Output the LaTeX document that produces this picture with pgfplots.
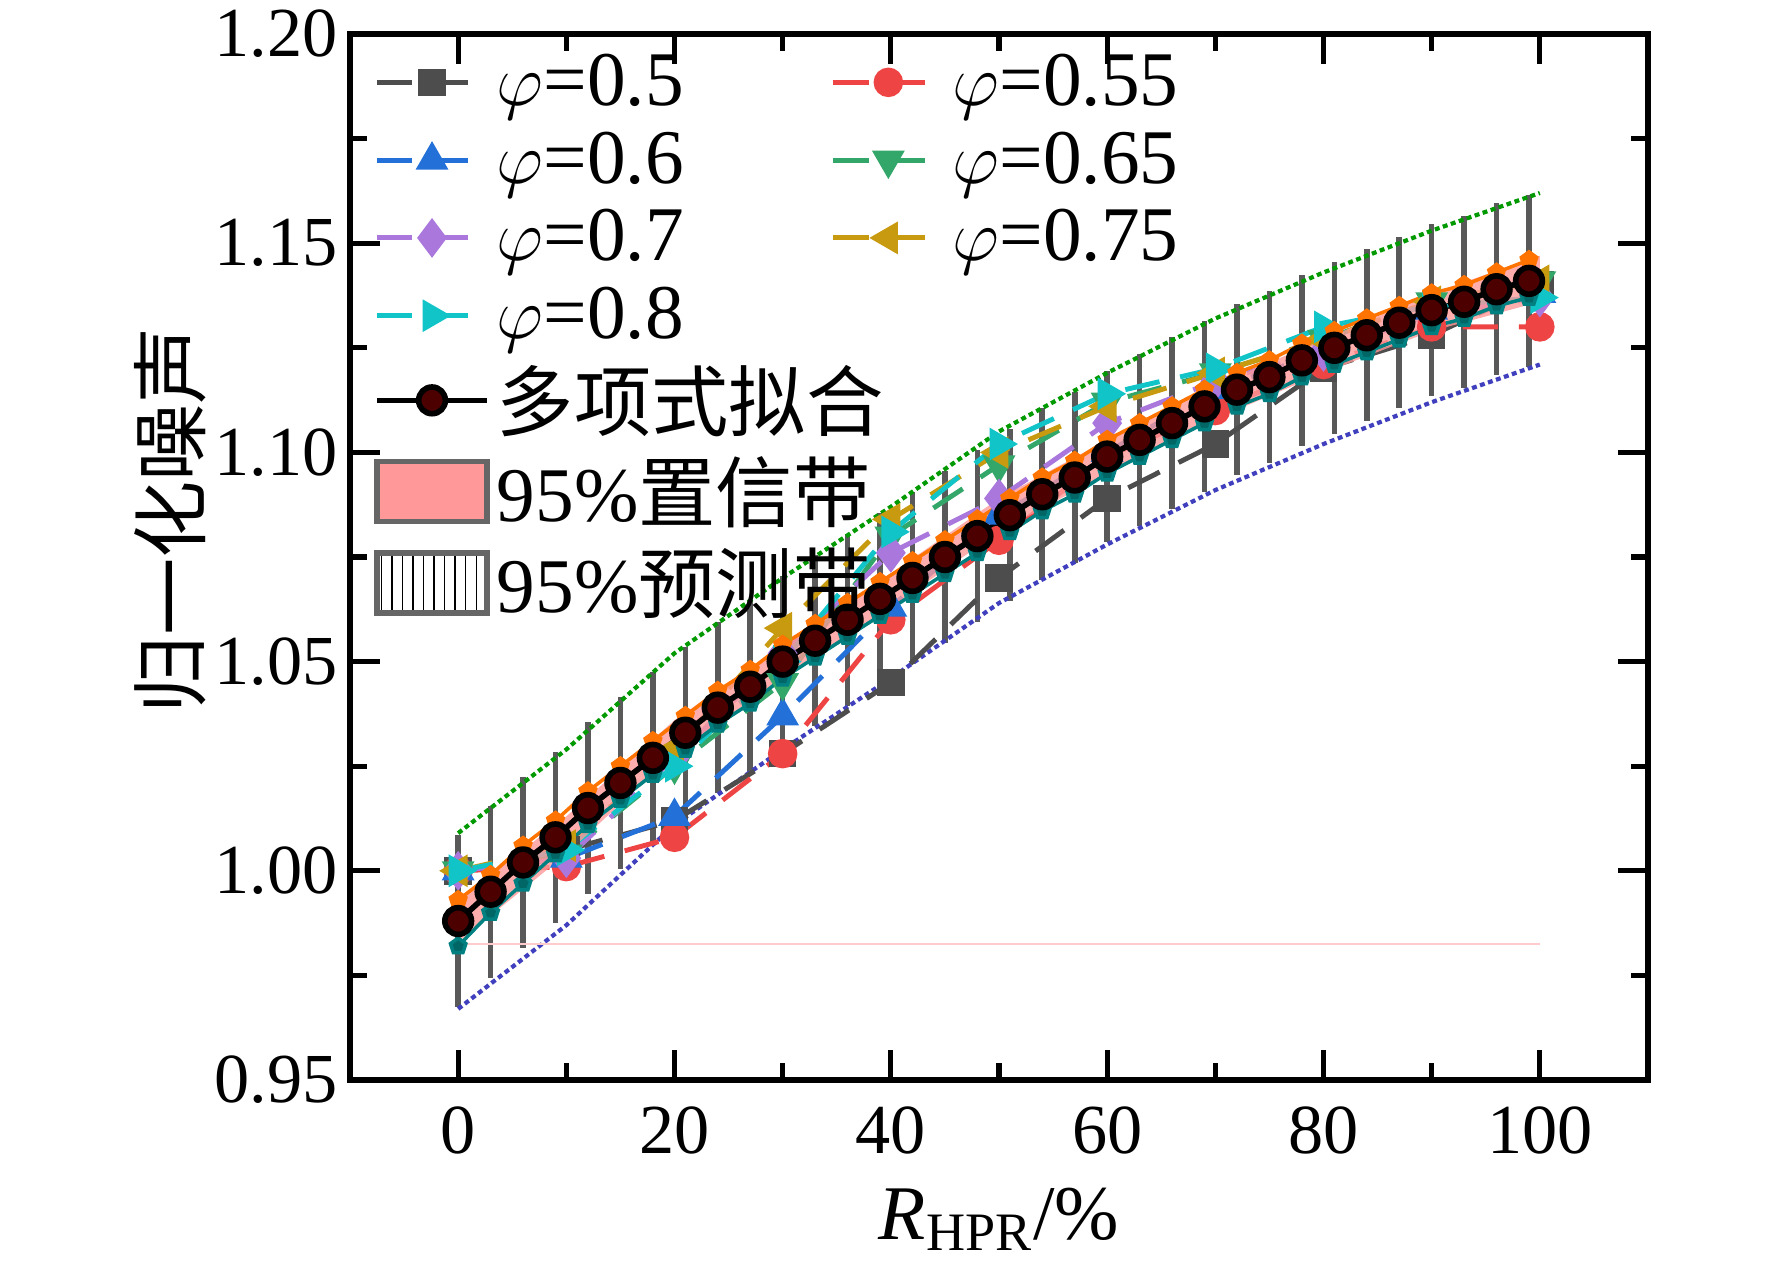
\documentclass[border=0pt]{standalone}
\usepackage{pgfplots}
\pgfplotsset{compat=1.18}
\usetikzlibrary{patterns}
\usepackage{fontspec}
\setmainfont{Liberation Serif}
\newfontfamily\cjk{Noto Sans CJK SC}
\definecolor{c1}{HTML}{4D4D4D}
\definecolor{c2}{HTML}{EE4444}
\definecolor{c3}{HTML}{2270D8}
\definecolor{c4}{HTML}{33A66A}
\definecolor{c5}{HTML}{AA77DD}
\definecolor{c6}{HTML}{C89A10}
\definecolor{c7}{HTML}{10C4C8}
\begin{document}
\begin{tikzpicture}
\path[use as bounding box] (-3.5,-1.92) rectangle (14.22,10.80);
\begin{axis}[
 scale only axis, width=12.98cm, height=10.46cm,
 xmin=-10, xmax=110, ymin=0.95, ymax=1.20,
 xtick={0,20,...,100}, minor xtick={10,30,50,70,90},
 ytick={0.95,1.00,...,1.20}, minor ytick={0.975,1.025,...,1.175},
 yticklabel style={/pgf/number format/.cd, fixed, fixed zerofill, precision=2},
 /pgf/number format/assume math mode=true,
 tick align=inside, major tick length=0.3cm, minor tick length=0.17cm,
 tick style={line width=1.5pt, black}, axis line style={line width=1.5pt},
 ticklabel style={font=\fontsize{20}{23}\selectfont},
 xticklabel style={yshift=-4pt},
 legend columns=2,
 legend image code/.code={\draw[mark repeat=2,mark phase=2] plot coordinates {(0cm,0cm)(0.55cm,0cm)(1.1cm,0cm)};},
 legend style={draw=none, fill=none, at={(0.01,0.995)}, anchor=north west,
   font=\fontsize{22}{25}\selectfont, /tikz/every even column/.append style={column sep=1.4cm}, row sep=2pt},
 legend cell align=left,
 every axis plot/.append style={line width=1.4pt},
]
\addplot[draw=none, forget plot, error bars/.cd, y dir=both, y explicit,
  error bar style={black!65, line width=1.6pt}, error mark=none]
 table[y error index=2]{
x y e
0 0.988 0.0205
3 0.995 0.0205
6 1.002 0.0205
9 1.008 0.0205
12 1.015 0.0205
15 1.021 0.0205
18 1.027 0.0205
21 1.033 0.0205
24 1.039 0.0205
27 1.044 0.0205
30 1.050 0.0205
33 1.055 0.0205
36 1.060 0.0205
39 1.065 0.0205
42 1.070 0.0205
45 1.075 0.0205
48 1.080 0.0205
51 1.085 0.0205
54 1.090 0.0205
57 1.094 0.0205
60 1.099 0.0205
63 1.103 0.0205
66 1.107 0.0205
69 1.111 0.0205
72 1.115 0.0205
75 1.118 0.0205
78 1.122 0.0205
81 1.125 0.0205
84 1.128 0.0205
87 1.131 0.0205
90 1.134 0.0205
93 1.136 0.0205
96 1.139 0.0205
99 1.141 0.0205
};
\addplot[forget plot, densely dotted, green!60!black, line width=1.2pt] coordinates {(0,1.009)(10,1.029)(20,1.052)(30,1.070)(40,1.087)(50,1.105)(60,1.119)(70,1.132)(80,1.143)(90,1.153)(100,1.162)};
\addplot[forget plot, densely dotted, blue!50!gray, line width=1.2pt] coordinates {(0,0.967)(10,0.987)(20,1.011)(30,1.029)(40,1.046)(50,1.064)(60,1.078)(70,1.091)(80,1.102)(90,1.112)(100,1.121)};
\addplot[forget plot, red!20, line width=0.6pt] coordinates {(0,0.9825)(100,0.9825)};
\addplot[c1, dash pattern=on 10pt off 6pt, mark=square*, mark size=3.2pt, mark options={solid, fill=c1}] coordinates {(0,1.000)(10,1.005)(20,1.012)(30,1.028)(40,1.045)(50,1.070)(60,1.089)(70,1.102)(80,1.120)(90,1.128)(100,1.140)};
\addlegendentry{$\varphi$=0.5}
\addplot[c2, dash pattern=on 10pt off 6pt, mark=*, mark size=3.5pt, mark options={solid, fill=c2}] coordinates {(0,1.000)(10,1.001)(20,1.008)(30,1.028)(40,1.060)(50,1.079)(60,1.099)(70,1.110)(80,1.121)(90,1.130)(100,1.130)};
\addlegendentry{$\varphi$=0.55}
\addplot[c3, dash pattern=on 10pt off 6pt, mark=triangle*, mark size=4pt, mark options={solid, fill=c3}] coordinates {(0,1.000)(10,1.003)(20,1.013)(30,1.037)(40,1.063)(50,1.085)(60,1.100)(70,1.115)(80,1.124)(90,1.134)(100,1.138)};
\addlegendentry{$\varphi$=0.6}
\addplot[c4, dash pattern=on 10pt off 6pt, mark=triangle*, mark size=4pt, mark options={solid, fill=c4, rotate=180}] coordinates {(0,1.000)(10,1.004)(20,1.025)(30,1.045)(40,1.080)(50,1.097)(60,1.112)(70,1.119)(80,1.127)(90,1.136)(100,1.141)};
\addlegendentry{$\varphi$=0.65}
\addplot[c5, dash pattern=on 10pt off 6pt, mark=diamond*, mark size=4.5pt, mark options={solid, fill=c5}] coordinates {(0,1.000)(10,1.003)(20,1.027)(30,1.052)(40,1.076)(50,1.089)(60,1.107)(70,1.117)(80,1.124)(90,1.133)(100,1.137)};
\addlegendentry{$\varphi$=0.7}
\addplot[c6, dash pattern=on 10pt off 6pt, mark=triangle*, mark size=4pt, mark options={solid, fill=c6, rotate=90}] coordinates {(0,1.000)(10,1.006)(20,1.029)(30,1.058)(40,1.084)(50,1.100)(60,1.111)(70,1.119)(80,1.127)(90,1.136)(100,1.141)};
\addlegendentry{$\varphi$=0.75}
\addplot[c7, dash pattern=on 10pt off 6pt, mark=triangle*, mark size=4pt, mark options={solid, fill=c7, rotate=-90}] coordinates {(0,1.000)(10,1.005)(20,1.025)(30,1.050)(40,1.081)(50,1.102)(60,1.114)(70,1.120)(80,1.130)(90,1.135)(100,1.137)};
\addlegendentry{$\varphi$=0.8}
\addlegendimage{empty legend}\addlegendentry{}
\addplot[forget plot, fill=red!40, draw=none, opacity=0.8] coordinates {(0,0.993)(10,1.013)(20,1.036)(30,1.054)(40,1.071)(50,1.089)(60,1.103)(70,1.116)(80,1.127)(90,1.138)(100,1.147)(100,1.136)(90,1.129)(80,1.119)(70,1.108)(60,1.095)(50,1.081)(40,1.063)(30,1.046)(20,1.028)(10,1.004)(0,0.983)} -- cycle;
\addplot[forget plot, orange!90!red, line width=1pt, mark=pentagon*, mark size=2.3pt] coordinates {(0,0.993)(3,0.999)(6,1.006)(9,1.012)(12,1.019)(15,1.025)(18,1.031)(21,1.037)(24,1.043)(27,1.048)(30,1.054)(33,1.059)(36,1.064)(39,1.069)(42,1.074)(45,1.079)(48,1.084)(51,1.089)(54,1.094)(57,1.098)(60,1.103)(63,1.107)(66,1.111)(69,1.115)(72,1.119)(75,1.122)(78,1.126)(81,1.129)(84,1.132)(87,1.135)(90,1.138)(93,1.140)(96,1.143)(99,1.146)};
\addplot[forget plot, teal, line width=1pt, mark=pentagon*, mark size=2.3pt, mark options={fill=teal!80!black}] coordinates {(0,0.982)(3,0.990)(6,0.997)(9,1.004)(12,1.011)(15,1.017)(18,1.023)(21,1.029)(24,1.035)(27,1.040)(30,1.046)(33,1.051)(36,1.056)(39,1.061)(42,1.066)(45,1.071)(48,1.076)(51,1.081)(54,1.086)(57,1.090)(60,1.095)(63,1.099)(66,1.103)(69,1.107)(72,1.111)(75,1.114)(78,1.118)(81,1.121)(84,1.124)(87,1.127)(90,1.130)(93,1.132)(96,1.135)(99,1.137)};
\addplot[black, line width=1.6pt, mark=*, mark size=3.8pt, mark options={fill=red!30!black, draw=black}] coordinates {(0,0.988)(3,0.995)(6,1.002)(9,1.008)(12,1.015)(15,1.021)(18,1.027)(21,1.033)(24,1.039)(27,1.044)(30,1.050)(33,1.055)(36,1.060)(39,1.065)(42,1.070)(45,1.075)(48,1.080)(51,1.085)(54,1.090)(57,1.094)(60,1.099)(63,1.103)(66,1.107)(69,1.111)(72,1.115)(75,1.118)(78,1.122)(81,1.125)(84,1.128)(87,1.131)(90,1.134)(93,1.136)(96,1.139)(99,1.141)};
\addlegendentry{\rlap{\cjk 多项式拟合}}
\addlegendimage{empty legend}\addlegendentry{}
\addlegendimage{legend image code/.code={\draw[fill=red!40, draw=black!60, line width=1.5pt] (0cm,-0.3cm) rectangle (1.1cm,0.3cm);}}
\addlegendentry{\rlap{95\%{\cjk 置信带}}}
\addlegendimage{empty legend}\addlegendentry{}
\addlegendimage{legend image code/.code={\draw[pattern=vertical lines, draw=black!60, line width=1.5pt] (0cm,-0.3cm) rectangle (1.1cm,0.3cm);}}
\addlegendentry{\rlap{95\%{\cjk 预测带}}}
\end{axis}
\node[rotate=90, font=\fontsize{22}{25}\selectfont\cjk] at (-1.8,5.6) {归一化噪声};
\node[font=\fontsize{22}{25}\selectfont] at (6.49,-1.39) {\textit{R}\textsubscript{HPR}/\%};
\end{tikzpicture}
\end{document}
